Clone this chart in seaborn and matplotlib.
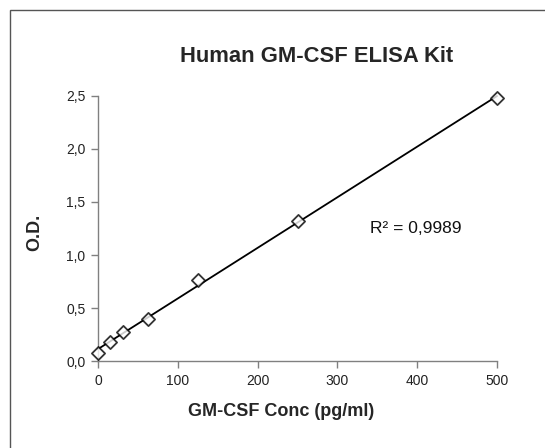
import numpy as np
import pandas as pd
import matplotlib
matplotlib.use('Agg')
import matplotlib.pyplot as plt
import seaborn as sns
from matplotlib.patches import Rectangle
from matplotlib.ticker import FuncFormatter

# Standard curve values
conc = [0, 15.6, 31.25, 62.5, 125, 250, 500]
od = [0.078, 0.18, 0.27, 0.40, 0.76, 1.32, 2.48]
x_ticks = [0, 100, 200, 300, 400, 500]
y_ticks = [0.0, 0.5, 1.0, 1.5, 2.0, 2.5]
r2_text = 'R² = 0,9989'

df = pd.DataFrame({'conc': conc, 'od': od})

sns.set_style('white')
plt.rcParams['font.family'] = ['Liberation Sans', 'DejaVu Sans']

fig = plt.figure(figsize=(5.45, 4.48), dpi=100)
ax = fig.add_axes([0.1798, 0.194, 0.7322, 0.592])

# outer chart frame (cut off at right and bottom like the source)
fig.patches.append(Rectangle((10 / 545, -0.1), 1.2, 1 - 10 / 448 + 0.1,
                             transform=fig.transFigure, fill=False,
                             edgecolor='#555555', linewidth=1.0))

sns.regplot(data=df, x='conc', y='od', ax=ax, ci=None, marker='D',
            scatter_kws={'s': 45, 'facecolors': 'white', 'edgecolors': 'black',
                         'linewidths': 1.3, 'zorder': 3, 'clip_on': False},
            line_kws={'color': 'black', 'linewidth': 1.3, 'clip_on': False})

ax.set_xlim(0, 500)
ax.set_ylim(0, 2.5)
ax.set_xticks(x_ticks)
ax.set_yticks(y_ticks)
ax.yaxis.set_major_formatter(FuncFormatter(lambda v, p: f'{v:.1f}'.replace('.', ',')))
ax.tick_params(axis='both', direction='out', length=5, width=1, color='#808080',
               labelsize=10, labelcolor='#222222', bottom=True, left=True, pad=4)
sns.despine(ax=ax)
for s in ['left', 'bottom']:
    ax.spines[s].set_color('#808080')
    ax.spines[s].set_linewidth(1.0)

ax.set_xlabel('')
ax.set_ylabel('')
fig.text(317 / 545, 1 - 57 / 448, 'Human GM-CSF ELISA Kit', ha='center', va='center',
         fontsize=15.8, fontweight='bold')
fig.text(281 / 545, 1 - 411 / 448, 'GM-CSF Conc (pg/ml)', ha='center', va='center',
         fontsize=13, fontweight='bold')
fig.text(35 / 545, 1 - 232 / 448, 'O.D.', ha='center', va='center', rotation=90,
         fontsize=13, fontweight='bold')
ax.text(341, 1.25, r2_text, fontsize=12.5, color='#111111', va='center', ha='left')

fig.savefig('out.png', dpi=100)
